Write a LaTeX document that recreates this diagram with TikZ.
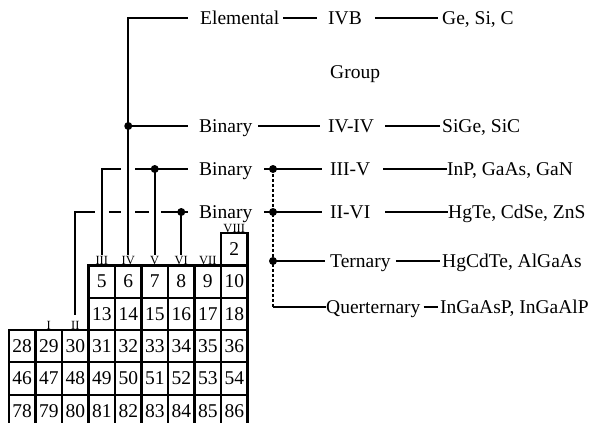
\documentclass[tikz,border=0pt]{standalone}
\usepackage{fontspec}
\setmainfont{Liberation Serif}
\usetikzlibrary{calc}

\begin{document}
\begin{tikzpicture}[x=1pt,y=-1pt,
  conn/.style={line width=1.8pt},
  dlink/.style={line width=2.2pt, dash pattern=on 3.2pt off 1.8pt},
  jdot/.style={circle, fill=black, inner sep=0pt, minimum size=8pt},
  lbl/.style={font=\fontsize{19.5}{20}\selectfont, inner sep=0pt, text height=13pt, text depth=0pt, anchor=west},
  grp/.style={font=\fontsize{12.5}{13}\selectfont, inner sep=1.2pt},
  cell/.style={draw, line width=2.2pt, minimum width=26.5pt, minimum height=32.3pt, inner sep=0pt, font=\fontsize{19.5}{20}\selectfont},
]
\useasboundingbox (0,0) rectangle (592,423);

% ---- periodic-table block ----
\foreach \row/\start/\col in {0/2/8, 1/5/3, 2/13/3, 3/28/0, 4/46/0, 5/78/0} {
  \pgfmathtruncatemacro\last{\start + 8 - \col}
  \foreach \n in {\start,...,\last} {
    \pgfmathsetmacro\cx{9 + 26.5*(\n - \start + \col + 0.5)}
    \pgfmathsetmacro\cy{233.1 + 32.3*(\row + 0.5)}
    \node[cell] (c\n) at (\cx,\cy) {\n};
  }
}

% ---- group labels above the columns ----
\node[grp] (gI)    at (48.75,325) {I};
\node[grp] (gII)   at (75.25,325) {II};
\node[grp] (gIII)  at (101.75,260.5) {III};
\node[grp] (gIV)   at (128.25,260.5) {IV};
\node[grp] (gV)    at (154.75,260.5) {V};
\node[grp] (gVI)   at (181.25,260.5) {VI};
\node[grp] (gVII)  at (207.75,260.5) {VII};
\node[grp] (gVIII) at (234.25,228.8) {VIII};

% ---- classification texts ----
\node[lbl] (el)   at (200,18)  {Elemental};
\node[lbl] (ivb)  at (328,18)  {IVB};
\node[lbl] (ges)  at (442,18)  {Ge, Si, C};
\node[lbl] (grpt) at (330,72)  {Group};
\node[lbl] (bin1) at (199,126) {Binary};
\node[lbl] (iviv) at (328,126) {IV-IV};
\node[lbl] (sige) at (442,126) {SiGe, SiC};
\node[lbl] (bin2) at (199,169) {Binary};
\node[lbl] (iiiv) at (330,169) {III-V};
\node[lbl] (inp)  at (447,169) {InP, GaAs, GaN};
\node[lbl] (bin3) at (199,212) {Binary};
\node[lbl] (iivi) at (330,212) {II-VI};
\node[lbl] (hgte) at (448,212) {HgTe, CdSe, ZnS};
\node[lbl] (tern) at (330,261) {Ternary};
\node[lbl] (hgcd) at (442,261) {HgCdTe, AlGaAs};
\node[lbl] (quer) at (326,307) {Querternary};
\node[lbl] (inga) at (440,307) {InGaAsP, InGaAlP};

\coordinate (jx) at (273,0);

% ---- group lines on the left ----
\draw[conn, shorten >=12pt] (gIV.north) |- (el);
\draw[conn, shorten >=11pt] (gIV |- bin1) -- (bin1);

\draw[conn] (gIII.north) |- ($(gIV |- bin2)+(-7,0)$);
\draw[conn, shorten >=11pt] ($(gIV |- bin2)+(7,0)$) -- (bin2);
\draw[conn] (gV.north) -- (gV |- bin2);

\draw[conn, shorten <=5pt] (gII.north) |- ($(gIII |- bin3)+(-7,0)$);
\draw[conn] ($(gIII |- bin3)+(7,0)$) -- ($(gIV |- bin3)+(-7,0)$);
\draw[conn] ($(gIV |- bin3)+(7,0)$) -- ($(gV |- bin3)+(-6,0)$);
\draw[conn, shorten >=11pt] ($(gV |- bin3)+(6,0)$) -- (bin3);
\draw[conn] (gVI.north) -- (gVI |- bin3);

\node[jdot] at (gIV |- bin1) {};
\node[jdot] at (gV |- bin2) {};
\node[jdot] at (gVI |- bin3) {};

% ---- links to the right ----
\draw[conn, shorten <=4pt, shorten >=11pt] (el) -- (ivb);
\draw[conn, shorten <=13pt, shorten >=4pt] (ivb) -- (ges);
\draw[conn, shorten <=6pt, shorten >=8pt] (bin1) -- (iviv);
\draw[conn, shorten <=11pt, shorten >=2pt] (iviv) -- (sige);
\draw[conn, shorten <=12pt, shorten >=8pt] (bin2) -- (iiiv);
\draw[conn, shorten <=13pt] (iiiv) -- (inp);
\draw[conn, shorten <=12pt, shorten >=8pt] (bin3) -- (iivi);
\draw[conn, shorten <=15pt] (iivi) -- (hgte);
\draw[conn, shorten >=5pt] (jx |- tern) -- (tern);
\draw[conn, shorten <=5pt, shorten >=2pt] (tern) -- (hgcd);
\draw[dlink] (jx |- bin2) -- (jx |- quer);
\draw[conn] (jx |- quer) -- (quer);
\draw[conn, shorten <=3pt, shorten >=2pt] (quer) -- (inga);

\node[jdot] at (jx |- bin2) {};
\node[jdot] at (jx |- bin3) {};
\node[jdot] at (jx |- tern) {};
\end{tikzpicture}
\end{document}
